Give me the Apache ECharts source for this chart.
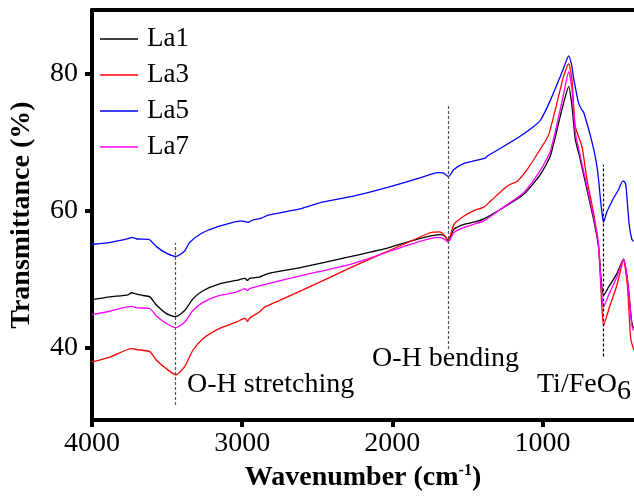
<!DOCTYPE html>
<html>
<head>
<meta charset="utf-8">
<script src="https://cdn.jsdelivr.net/npm/echarts@6/dist/echarts.min.js"></script>
<style>
  html, body { margin: 0; padding: 0; background: #fff; }
  #chart { width: 634px; height: 497px; }
</style>
</head>
<body>
<div id="chart"></div>
<script>
// FTIR spectra, [wavenumber, transmittance]
const la1 = [[4000,47.0],[3881,47.4],[3760,47.7],[3737,48.0],[3703,47.8],[3660,47.6],[3615,47.4],[3571,46.2],[3504,44.95],[3442,44.5],[3383,45.4],[3328,47.1],[3261,48.3],[3150,49.3],[3040,49.8],[2980,50.1],[2965,49.8],[2950,50.1],[2885,50.3],[2827,50.8],[2606,51.7],[2296,53.2],[2053,54.4],[1832,55.85],[1677,56.5],[1650,56.3],[1628,55.6],[1589,57.3],[1522,58.0],[1456,58.3],[1390,58.8],[1279,60.2],[1124,62.4],[1013,65.3],[947,68.0],[881,73.8],[859,75.7],[825,78.15],[803,75.25],[781,70.4],[748,67.5],[704,63.1],[660,58.8],[627,54.9],[609,50.0],[593,47.6],[560,48.8],[504,50.8],[460,52.9],[434,50.0],[405,43.7],[394,42.8]];
const la3 = [[4000,37.9],[3881,38.6],[3737,39.85],[3700,39.7],[3615,39.4],[3571,38.15],[3504,36.9],[3442,36.0],[3383,37.2],[3328,39.6],[3261,41.3],[3150,42.8],[3040,43.7],[2980,44.3],[2965,43.8],[2950,44.3],[2885,45.2],[2850,45.9],[2606,48.3],[2274,51.7],[1943,54.9],[1743,56.8],[1688,56.9],[1660,56.6],[1628,55.6],[1589,58.0],[1522,59.2],[1456,60.0],[1390,60.5],[1345,61.4],[1234,63.6],[1168,64.3],[1102,66.0],[1013,69.0],[958,71.1],[881,77.7],[859,79.6],[825,81.45],[803,79.1],[781,72.3],[737,69.4],[704,64.6],[660,59.75],[627,54.9],[609,48.1],[593,43.25],[549,46.2],[504,49.1],[460,52.7],[434,49.1],[412,41.3],[390,39.6]];
const la5 = [[4000,55.05],[3867,55.4],[3760,55.9],[3735,56.1],[3701,55.85],[3622,55.8],[3569,54.7],[3502,53.75],[3440,53.3],[3383,54.1],[3350,55.35],[3270,56.7],[3170,57.6],[3004,58.5],[2958,58.3],[2930,58.6],[2872,58.9],[2825,59.35],[2606,60.3],[2473,61.2],[2252,62.15],[2031,63.4],[1810,64.8],[1699,65.55],[1660,65.5],[1626,64.97],[1589,66.0],[1522,66.9],[1456,67.25],[1378,67.7],[1367,67.97],[1257,69.4],[1146,70.9],[1058,72.3],[1013,73.2],[947,76.1],[881,79.6],[859,80.8],[825,82.6],[803,81.0],[792,79.3],[770,76.8],[759,75.7],[737,74.7],[726,74.4],[704,72.8],[681,71.0],[659,69.0],[637,66.5],[626,64.5],[615,62.0],[604,59.8],[593,58.3],[571,59.8],[549,60.8],[527,61.8],[494,63.0],[465,64.3],[452,64.2],[443,63.5],[432,60.5],[421,57.8],[405,55.85],[394,55.5]];
const la7 = [[4000,44.8],[3881,45.3],[3737,46.0],[3700,45.8],[3615,45.7],[3571,44.6],[3504,43.5],[3442,42.9],[3383,43.7],[3328,45.4],[3261,46.6],[3150,47.6],[3040,48.1],[2980,48.6],[2965,48.3],[2950,48.6],[2885,49.0],[2606,50.5],[2274,52.2],[1943,54.6],[1699,56.1],[1660,55.9],[1628,55.4],[1589,56.8],[1522,57.55],[1456,58.0],[1390,58.5],[1279,60.2],[1124,62.65],[1013,65.9],[947,68.7],[881,74.8],[859,77.0],[825,80.3],[803,77.7],[781,71.4],[748,68.0],[704,63.6],[660,59.2],[627,55.4],[609,49.1],[593,45.9],[560,47.6],[504,50.3],[460,52.9],[434,50.0],[405,43.3],[394,42.5]];

const seriesNames = ['La1', 'La3', 'La5', 'La7'];
const seriesColors = ['#000000', '#ff0000', '#0000ff', '#ff00ff'];
const xTicks = [4000, 3000, 2000, 1000];
const yTicks = [40, 60, 80];
// vertical guide lines: [wavenumber, from, to]
const guides = [[3443, 31.6, 55.3], [1626, 39.8, 75.4], [593, 38.7, 66.7]];
const guideColors = ['#555555', '#555555', '#000000'];

const FONT = 'Liberation Serif';
const chart = echarts.init(document.getElementById('chart'));

const mainSeries = [la1, la3, la5, la7].map((d, i) => ({
  name: seriesNames[i],
  type: 'line',
  data: d,
  symbol: 'none',
  smooth: 0.2,
  lineStyle: { color: seriesColors[i], width: 1.3 },
  itemStyle: { color: seriesColors[i] },
  z: 3,
}));

mainSeries[0].markLine = {
  silent: true,
  symbol: ['none', 'none'],
  label: { show: false },
  animation: false,
  data: guides.map((g, i) => [
    { coord: [g[0], g[1]], lineStyle: { color: guideColors[i], type: [3, 2], width: 1.2 } },
    { coord: [g[0], g[2]] },
  ]),
};

const option = {
  animation: false,
  backgroundColor: '#fff',
  grid: { left: 90, right: 0, top: 10, bottom: 75 },
  legend: {
    data: seriesNames,
    orient: 'vertical',
    left: 95,
    top: 20,
    icon: 'rect',
    itemWidth: 38,
    itemHeight: 1.5,
    itemGap: 8,
    textStyle: { fontFamily: FONT, fontSize: 27, color: '#000', lineHeight: 28, padding: [0, 0, 0, 4] },
  },
  xAxis: [
    {
      type: 'value',
      inverse: true,
      min: 390,
      max: 4000,
      name: '{b|Wavenumber (cm}{s|-1}{b|)}',
      nameLocation: 'middle',
      nameGap: 42,
      nameTextStyle: {
        rich: {
          b: { fontFamily: FONT, fontWeight: 'bold', fontSize: 28, color: '#000', lineHeight: 30 },
          s: { fontFamily: FONT, fontWeight: 'bold', fontSize: 16, color: '#000', lineHeight: 30, verticalAlign: 'top', padding: [0, 0, 12, 0] },
        },
      },
      axisLine: { lineStyle: { color: '#000', width: 4 } },
      axisTick: { show: true, length: 7, customValues: xTicks, lineStyle: { width: 4, color: '#000' } },
      axisLabel: { customValues: xTicks, formatter: (v) => String(v), fontFamily: FONT, fontSize: 28, color: '#000', margin: 10 },
      splitLine: { show: false },
    },
    {
      type: 'value',
      position: 'top',
      inverse: true,
      min: 390,
      max: 4000,
      axisLine: { show: true, lineStyle: { color: '#000', width: 4 } },
      axisTick: { show: false },
      axisLabel: { show: false },
      splitLine: { show: false },
    },
  ],
  yAxis: {
    type: 'value',
    min: 29.4,
    max: 89.3,
    name: 'Transmittance (%)',
    nameLocation: 'middle',
    nameGap: 56,
    nameTextStyle: { fontFamily: FONT, fontWeight: 'bold', fontSize: 28, color: '#000' },
    axisLine: { show: true, lineStyle: { color: '#000', width: 4 } },
    axisTick: { show: true, length: 7, customValues: yTicks, lineStyle: { width: 4, color: '#000' } },
    axisLabel: { customValues: yTicks, fontFamily: FONT, fontSize: 28, color: '#000', margin: 14 },
    splitLine: { show: false },
  },
  graphic: [
    { type: 'text', left: 187, top: 371, style: { text: 'O-H stretching', font: '28px "Liberation Serif"', fill: '#000' } },
    { type: 'text', left: 372, top: 345, style: { text: 'O-H bending', font: '28px "Liberation Serif"', fill: '#000' } },
    {
      type: 'text', left: 537, top: 371,
      style: {
        text: '{a|Ti/FeO}{s|6}',
        rich: {
          a: { fontFamily: FONT, fontSize: 28, fill: '#000', lineHeight: 34, verticalAlign: 'top' },
          s: { fontFamily: FONT, fontSize: 28, fill: '#000', lineHeight: 34, verticalAlign: 'top', padding: [7, 0, 0, 0] },
        },
      },
    },
  ],
  series: mainSeries,
};

chart.setOption(option);
</script>
</body>
</html>
